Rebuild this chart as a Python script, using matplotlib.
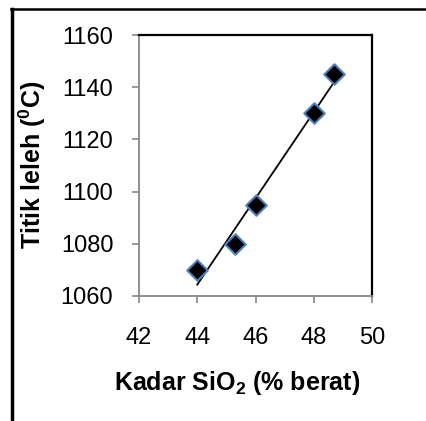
import numpy as np
import matplotlib
matplotlib.use("Agg")
import matplotlib.pyplot as plt
from matplotlib.lines import Line2D

plt.rcParams['font.family'] = ['Liberation Sans', 'DejaVu Sans']
plt.rcParams['mathtext.fontset'] = 'custom'
plt.rcParams['mathtext.rm'] = 'Liberation Sans'
plt.rcParams['mathtext.bf'] = 'Liberation Sans:bold'

sio2 = [44.0, 45.3, 46.0, 48.0, 48.7]
titik_leleh = [1070, 1080, 1095, 1130, 1145]
x_ticks = [42, 44, 46, 48, 50]
y_ticks = [1060, 1080, 1100, 1120, 1140, 1160]

W, H = 427, 421
fig = plt.figure(figsize=(W / 100, H / 100), dpi=100)
ax = fig.add_axes([139 / W, 1 - 296 / H, (372 - 139) / W, (296 - 35) / H])

# trendline (linear fit)
coef = np.polyfit(sio2, titik_leleh, 1)
xs = np.array([min(sio2), max(sio2)])
ax.plot(xs, np.polyval(coef, xs), color='black', lw=1.3, zorder=2)

ax.scatter(sio2, titik_leleh, marker='D', s=110, facecolor='black',
           edgecolor='#4F81BD', linewidths=1.5, zorder=3)

ax.set_xlim(42, 50)
ax.set_ylim(1060, 1160)
ax.set_xticks(x_ticks)
ax.set_yticks(y_ticks)
ax.tick_params(axis='both', labelsize=17, direction='out', length=5,
               color='#888888', width=1.2)
ax.tick_params(axis='x', pad=17)
ax.tick_params(axis='y', pad=13.5)

for s in ['left', 'bottom']:
    ax.spines[s].set_color('#888888')
    ax.spines[s].set_linewidth(1.3)
for s in ['top', 'right']:
    ax.spines[s].set_color('black')
    ax.spines[s].set_linewidth(1.6)

ax.set_xlabel('Kadar SiO$_\\mathbf{2}$ (% berat)', fontsize=18, fontweight='bold')
ax.set_ylabel('Titik leleh ($^\\mathbf{0}$C)', fontsize=18, fontweight='bold')
ax.xaxis.set_label_coords((237.5 - 139) / 233, (296 - 390) / 261)
ax.xaxis.label.set_va('baseline')
ax.yaxis.set_label_coords((32 - 139) / 233, (296 - 165) / 261)
ax.yaxis.label.set_va('center')

# outer frame
fig.add_artist(Line2D([12.5 / W, 12.5 / W], [0, 1 - 9 / H], transform=fig.transFigure,
                      color='black', lw=2.5))
fig.add_artist(Line2D([11 / W, 1], [1 - 9 / H, 1 - 9 / H], transform=fig.transFigure,
                      color='black', lw=1.8))

fig.savefig('out.png', dpi=100)
